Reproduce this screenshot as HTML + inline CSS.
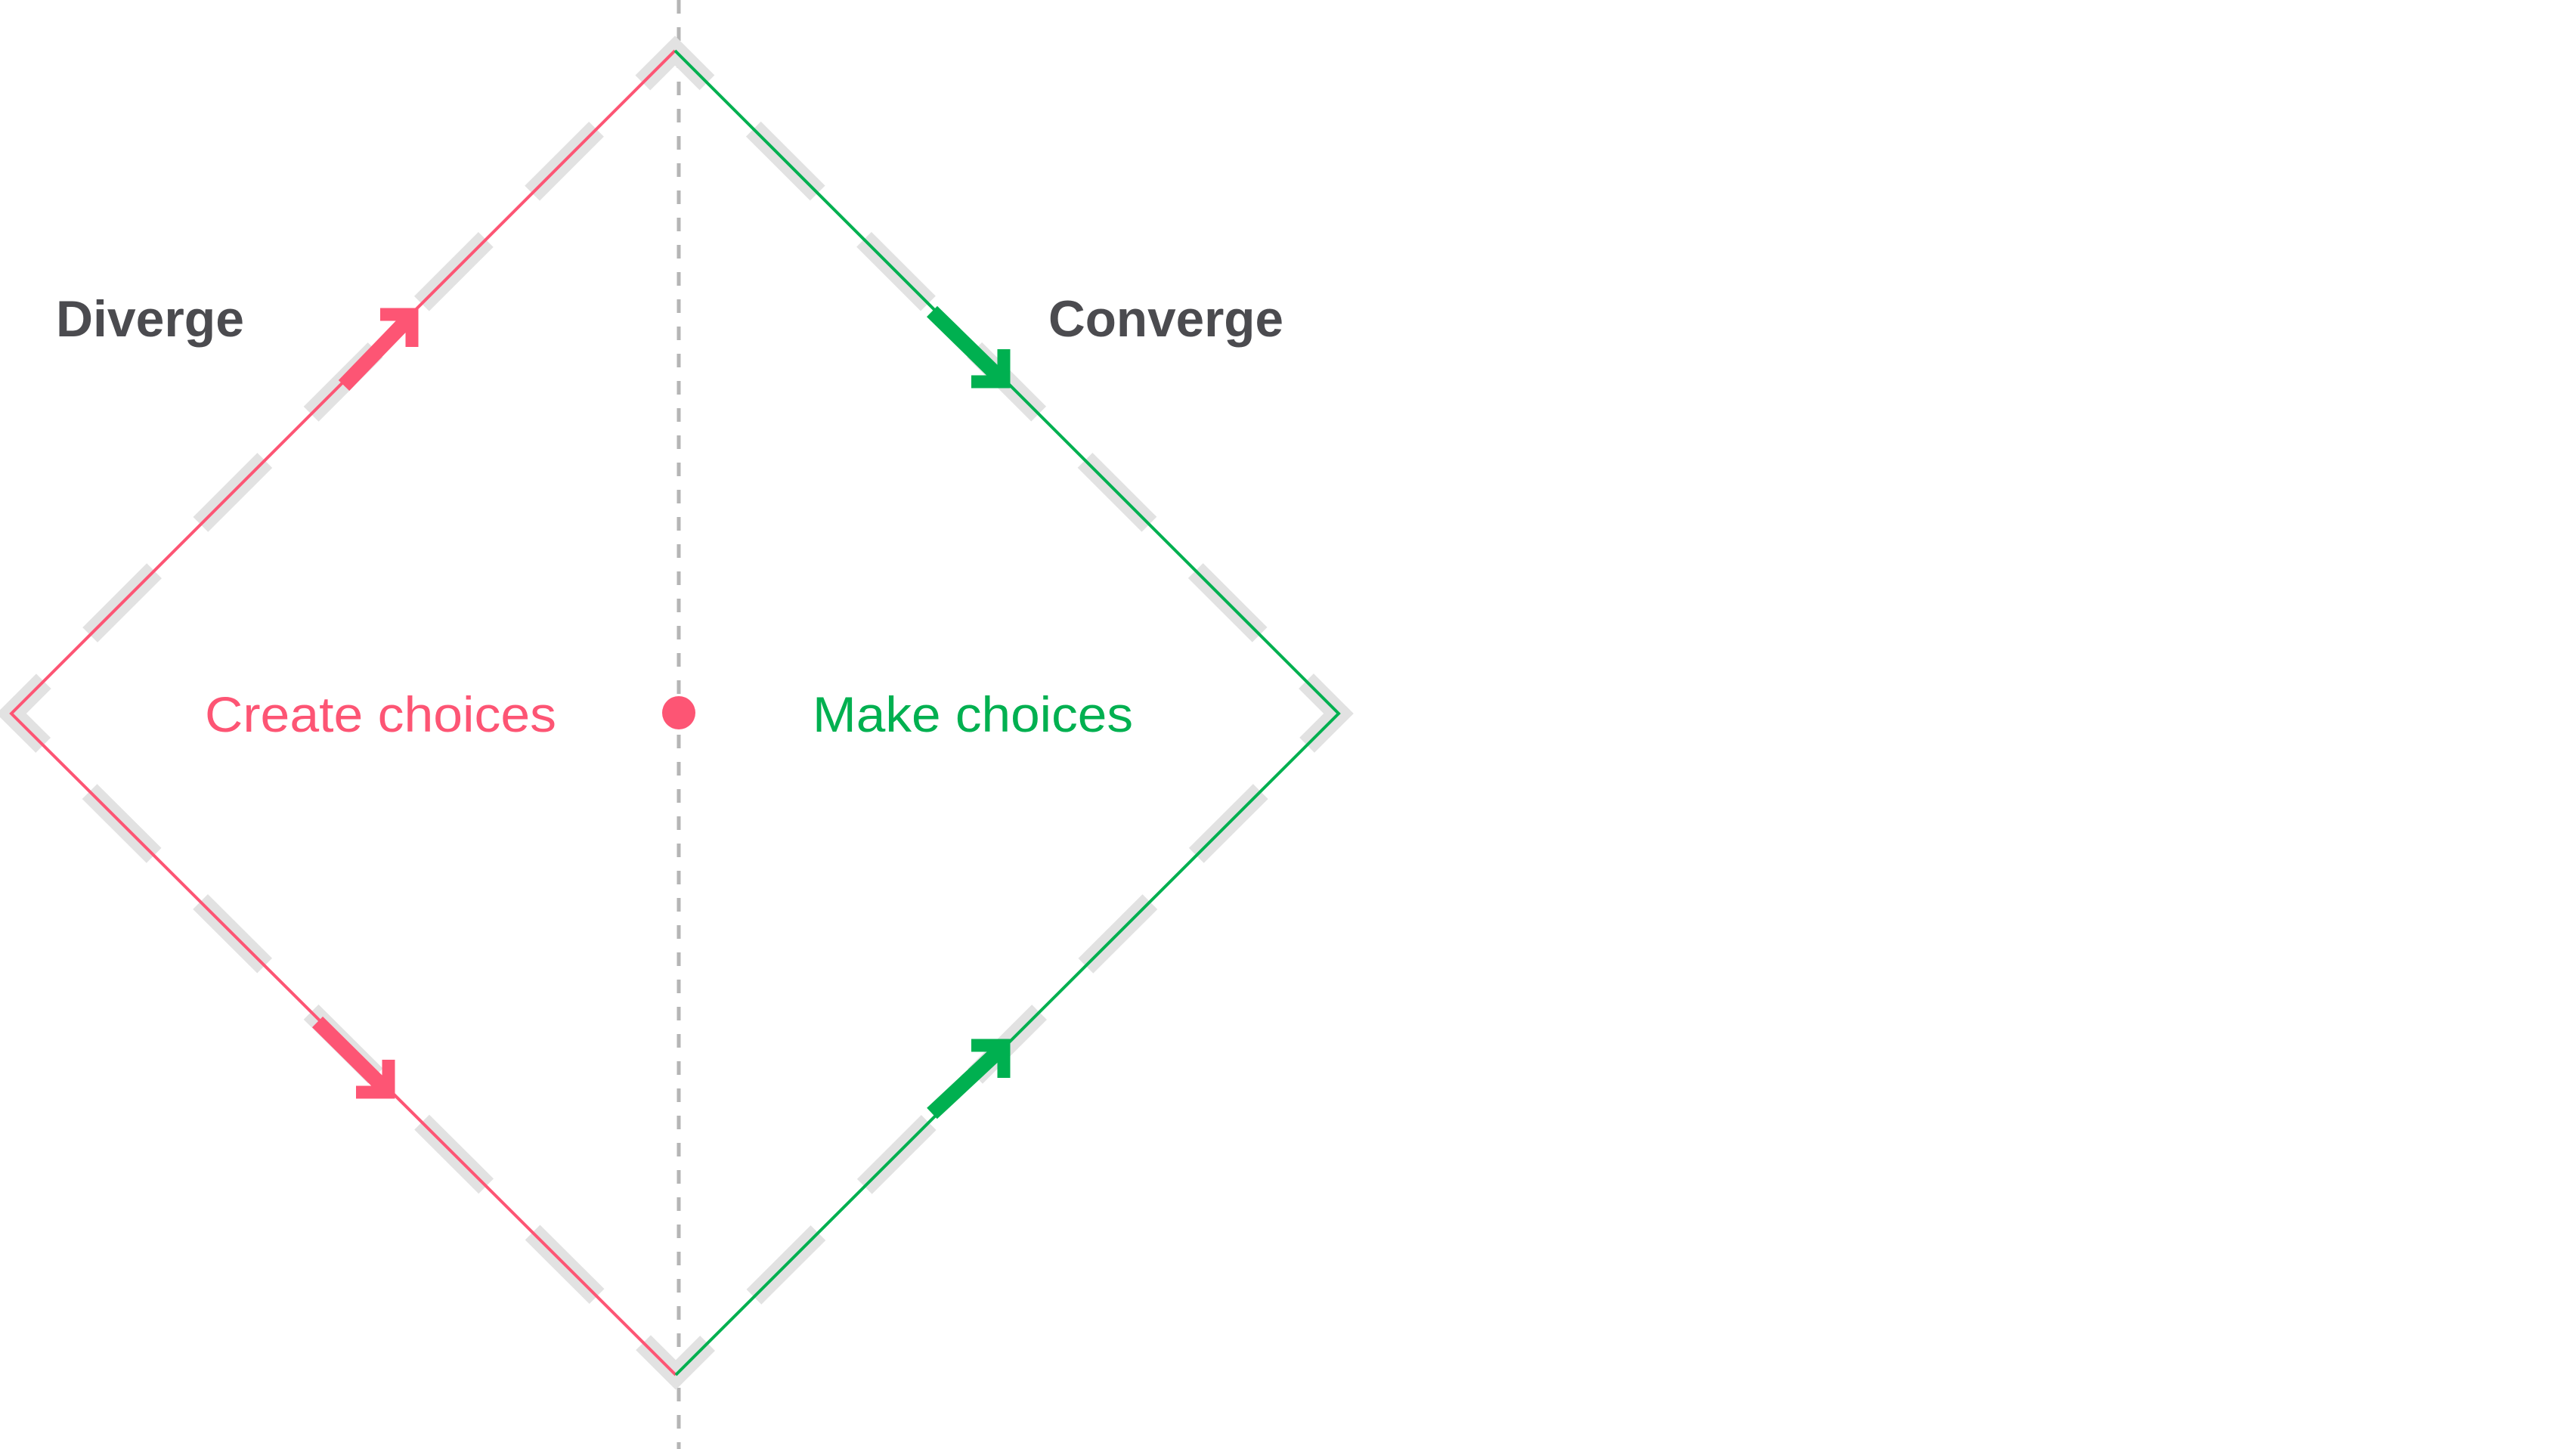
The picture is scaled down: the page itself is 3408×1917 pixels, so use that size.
<!DOCTYPE html>
<html><head><meta charset="utf-8"><style>html,body{margin:0;padding:0;background:#fff;}svg{display:block;}</style></head>
<body>
<svg width="3408" height="1917" viewBox="0 0 3408 1917" xmlns="http://www.w3.org/2000/svg">
<rect width="3408" height="1917" fill="#fff"/>
<line x1="898" y1="0" x2="898" y2="1917" stroke="#b5b5b5" stroke-width="5" stroke-dasharray="18 18"/>
<path d="M893,67 L1771,944 L894,1819 L15,944 Z" fill="none" stroke="#e2e2e2" stroke-width="28" stroke-linejoin="miter" stroke-dasharray="120 86.7" stroke-dashoffset="60"/>
<polyline points="894,1819 15,944 893,67" fill="none" stroke="#fd5574" stroke-width="4"/>
<polyline points="893,67 1771,944 894,1819" fill="none" stroke="#00b050" stroke-width="4"/>
<g stroke="#fd5574" fill="none" stroke-linejoin="miter">
<line x1="455" y1="510" x2="541" y2="421" stroke-width="20"/>
<polyline points="503,416 545,416 545,459" stroke-width="17"/>
<line x1="420" y1="1352" x2="510" y2="1441" stroke-width="20"/>
<polyline points="471,1445 514,1445 514,1402" stroke-width="17"/>
</g>
<g stroke="#00b050" fill="none" stroke-linejoin="miter">
<line x1="1233" y1="412" x2="1324" y2="501" stroke-width="20"/>
<polyline points="1285,505 1328,505 1328,462" stroke-width="17"/>
<line x1="1233" y1="1473" x2="1324" y2="1388" stroke-width="20"/>
<polyline points="1285,1383 1328,1383 1328,1426" stroke-width="17"/>
</g>
<circle cx="898" cy="943" r="22" fill="#fd5574"/>
<g font-family="Liberation Sans, sans-serif">
<text x="74" y="445" font-size="68" font-weight="bold" fill="#4b4b4f" textLength="249" lengthAdjust="spacingAndGlyphs">Diverge</text>
<text x="1387" y="445" font-size="68" font-weight="bold" fill="#4b4b4f" textLength="311" lengthAdjust="spacingAndGlyphs">Converge</text>
<text x="271" y="968" font-size="66" fill="#fd5574" textLength="465" lengthAdjust="spacingAndGlyphs">Create choices</text>
<text x="1075" y="968" font-size="66" fill="#00b050" textLength="424" lengthAdjust="spacingAndGlyphs">Make choices</text>
</g>
</svg>
</body></html>
